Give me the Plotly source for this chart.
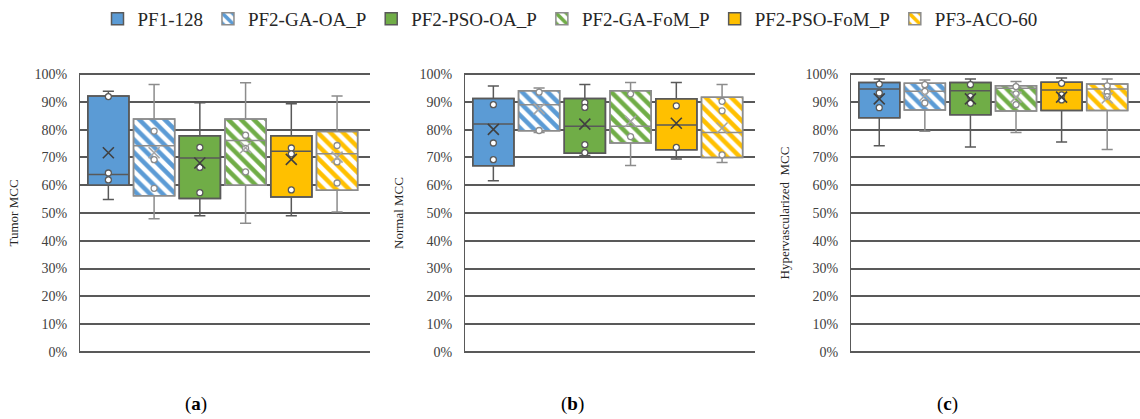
import plotly.graph_objects as go

series = ["PF1-128", "PF2-GA-OA_P", "PF2-PSO-OA_P", "PF2-GA-FoM_P", "PF2-PSO-FoM_P", "PF3-ACO-60"]
colors = ["#5B9BD5", "#5B9BD5", "#70AD47", "#70AD47", "#FFC000", "#FFC000"]
hatched = [False, True, False, True, False, True]

panel_titles = ["Tumor MCC", "Normal MCC", "Hypervascularized  MCC"]
panel_labels = ["(<b>a</b>)", "(<b>b</b>)", "(<b>c</b>)"]
y_ticks = [0, 10, 20, 30, 40, 50, 60, 70, 80, 90, 100]
y_tick_text = ["0%", "10%", "20%", "30%", "40%", "50%", "60%", "70%", "80%", "90%", "100%"]

# Panel (a) Tumor MCC
a_low = [54.9, 47.9, 49.0, 46.3, 49.0, 50.4]
a_q1 = [60.0, 56.2, 55.2, 60.0, 55.8, 58.2]
a_med = [63.9, 74.2, 69.8, 76.1, 72.2, 71.3]
a_q3 = [92.1, 83.8, 77.8, 83.8, 77.8, 79.3]
a_high = [93.8, 96.3, 89.7, 96.9, 89.3, 92.1]
a_mean = [71.7, 71.7, 68.0, 73.5, 69.3, 70.1]
a_pts = [[91.9, 64.4, 61.9], [79.5, 69.2, 58.9], [73.6, 66.4, 57.3],
         [78.0, 73.3, 64.8], [73.4, 71.3, 58.3], [74.3, 68.4, 60.8]]

# Panel (b) Normal MCC
b_low = [61.6, 79.0, 70.7, 67.1, 69.4, 68.2]
b_q1 = [67.0, 79.6, 71.5, 75.2, 72.8, 70.0]
b_med = [82.0, 89.0, 81.2, 81.2, 81.7, 79.0]
b_q3 = [91.2, 94.0, 91.2, 94.0, 91.1, 91.7]
b_high = [95.7, 95.0, 96.3, 97.0, 97.0, 96.3]
b_mean = [80.1, 87.5, 82.0, 83.0, 82.3, 80.6]
b_pts = [[89.0, 75.2, 69.2], [93.5, 79.7], [89.7, 88.0, 74.6, 71.7],
         [92.9, 77.5], [88.6, 73.6], [90.2, 86.8, 70.9]]

# Panel (c) Hypervascularized MCC
c_low = [74.2, 79.4, 73.8, 79.0, 75.6, 72.9]
c_q1 = [84.3, 87.1, 85.4, 86.7, 86.9, 86.9]
c_med = [94.6, 93.8, 94.0, 94.9, 94.3, 94.6]
c_q3 = [97.0, 96.7, 97.0, 95.8, 97.1, 96.4]
c_high = [98.2, 97.9, 98.2, 97.3, 98.6, 98.2]
c_mean = [91.1, 92.3, 91.1, 91.7, 91.7, 91.4]
c_pts = [[96.4, 93.2, 87.9], [96.2, 93.8, 89.6], [96.2, 92.0, 89.5],
         [95.5, 92.9, 89.0], [96.7, 92.5, 90.7], [95.8, 93.5, 91.9]]

panels = [
    (a_low, a_q1, a_med, a_q3, a_high, a_mean, a_pts),
    (b_low, b_q1, b_med, b_q3, b_high, b_mean, b_pts),
    (c_low, c_q1, c_med, c_q3, c_high, c_mean, c_pts),
]

x_domains = [[80 / 1140, 370 / 1140], [465 / 1140, 755 / 1140], [851 / 1140, 1.0]]
y_domain = [1 - 353 / 419, 1 - 73 / 419]
SERIF = "Liberation Serif"
GRID = "#595959"

fig = go.Figure()
for p, (low, q1, med, q3, high, mean, pts) in enumerate(panels):
    xa = "x" if p == 0 else f"x{p + 1}"
    ya = "y" if p == 0 else f"y{p + 1}"
    for i, name in enumerate(series):
        col = colors[i]
        if hatched[i]:
            marker = dict(color="white",
                          line=dict(color="#8C8C8C", width=1.5),
                          pattern=dict(shape="\\", fgcolor=col, bgcolor="white",
                                       size=9, solidity=0.5, fgopacity=1,
                                       fillmode="overlay"))
        else:
            marker = dict(color=col, line=dict(color="#595959", width=1.5))
        fig.add_trace(go.Bar(
            x=[name], y=[q3[i] - q1[i]], base=[q1[i]], width=0.9,
            marker=marker, name=name, legendgroup=name, showlegend=(p == 0),
            xaxis=xa, yaxis=ya, hoverinfo="skip"))
        line_col = "#8C8C8C" if hatched[i] else "#595959"
        fig.add_trace(go.Box(
            x=[name], q1=[q1[i]], median=[med[i]], q3=[q3[i]],
            lowerfence=[low[i]], upperfence=[high[i]],
            width=0.9, whiskerwidth=0.27, fillcolor="rgba(0,0,0,0)",
            line=dict(color=line_col, width=1.5), boxpoints=False,
            showlegend=False, legendgroup=name, xaxis=xa, yaxis=ya))
        pt_line = "#8C8C8C" if hatched[i] else "#595959"
        fig.add_trace(go.Scatter(
            x=[name] * len(pts[i]), y=pts[i], mode="markers",
            marker=dict(symbol="circle", size=6, color="white",
                        line=dict(color=pt_line, width=1.3)),
            showlegend=False, xaxis=xa, yaxis=ya, hoverinfo="skip"))
        x_col = "#A6A6A6" if hatched[i] else "#404040"
        fig.add_trace(go.Scatter(
            x=[name], y=[mean[i]], mode="markers",
            marker=dict(symbol="x-thin-open", size=11, color=x_col,
                        line=dict(color=x_col, width=1.6)),
            showlegend=False, xaxis=xa, yaxis=ya, hoverinfo="skip"))

layout = dict(
    width=1140, height=419,
    margin=dict(l=0, r=0, t=0, b=0, autoexpand=False),
    paper_bgcolor="white", plot_bgcolor="white",
    barmode="overlay", boxmode="overlay",
    showlegend=True,
    legend=dict(orientation="h", x=0.5, xanchor="center", y=1.0, yanchor="top",
                font=dict(family=SERIF, size=19, color="#262626"),
                itemwidth=30, tracegroupgap=0),
    font=dict(family=SERIF, color="#404040"),
    annotations=[],
)
for p in range(3):
    xk = "xaxis" if p == 0 else f"xaxis{p + 1}"
    yk = "yaxis" if p == 0 else f"yaxis{p + 1}"
    layout[xk] = dict(domain=x_domains[p], anchor="y" if p == 0 else f"y{p + 1}",
                      type="category", categoryorder="array", categoryarray=series,
                      range=[-0.62, 5.72], showticklabels=False, showgrid=False,
                      zeroline=False, showline=False, ticks="")
    layout[yk] = dict(domain=y_domain, anchor="x" if p == 0 else f"x{p + 1}",
                      range=[-0.4, 100.4], tickmode="array",
                      tickvals=y_ticks, ticktext=y_tick_text,
                      showgrid=True, gridcolor=GRID, gridwidth=2,
                      zeroline=False, showline=True, linecolor=GRID, linewidth=1,
                      ticks="", ticklabelstandoff=9,
                      tickfont=dict(family=SERIF, size=14, color="#404040"),
                      title=dict(text=panel_titles[p], standoff=12,
                                 font=dict(family=SERIF, size=13, color="#262626")))
    layout["annotations"].append(dict(
        text=panel_labels[p], x=[183, 572, 960][p] / 1140, xref="paper",
        y=1 - 404 / 419, yref="paper", yanchor="middle", showarrow=False,
        font=dict(family=SERIF, size=19, color="#000000")))

fig.update_layout(**layout)
fig.write_html("out.html",
               config={"displayModeBar": False, "staticPlot": True},
               post_script="document.body.style.margin='0px';document.body.style.overflow='hidden';")
